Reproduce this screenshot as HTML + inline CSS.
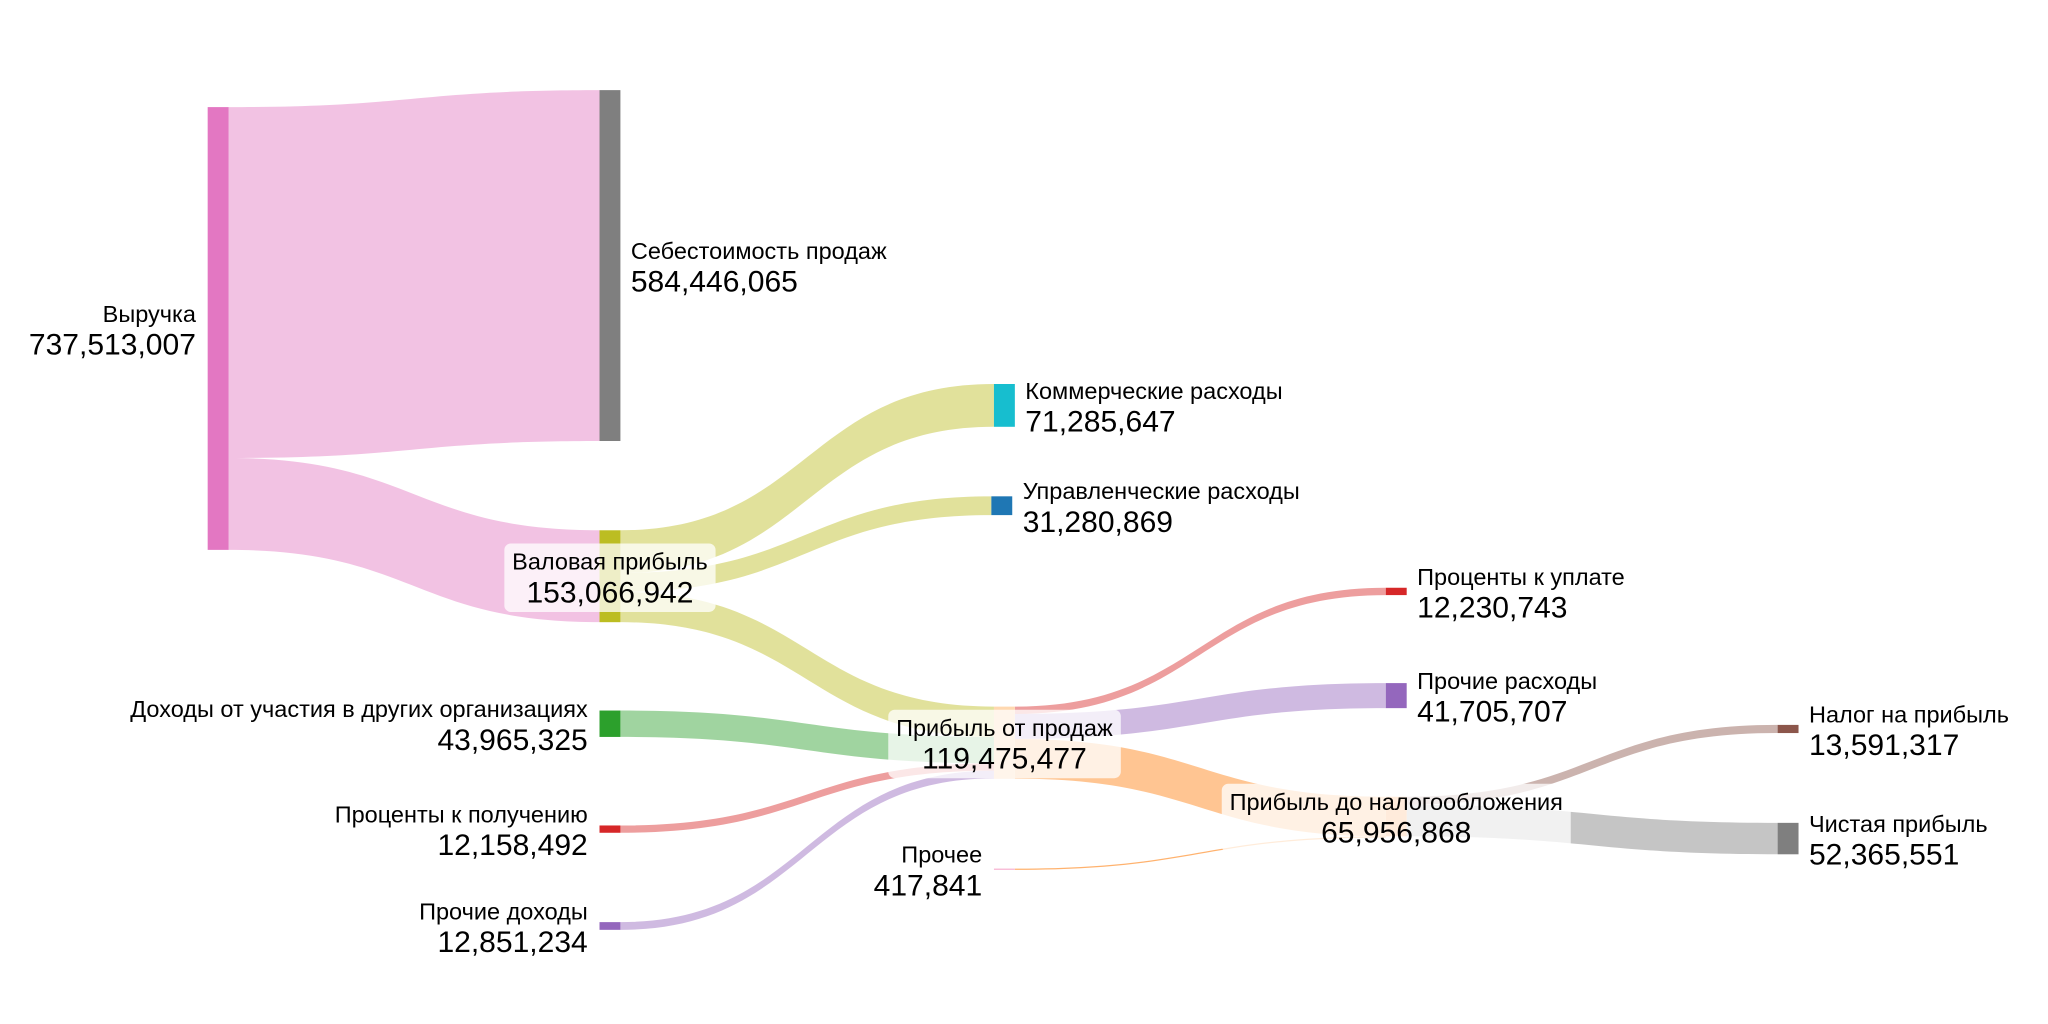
<!DOCTYPE html>
<html><head><meta charset="utf-8"><style>
html,body{margin:0;padding:0;background:#fff;}
svg{display:block;font-family:"Liberation Sans","Noto Sans CJK SC",sans-serif;}
</style></head><body>
<svg id="chart" width="2048" height="1024" viewBox="0 0 1568 784" xmlns="http://www.w3.org/2000/svg">
<g id="links"></g>
<g id="nodes"></g>
<g id="labels"></g>
</svg>
<script>
// data
const nodeNames = ["Выручка","Себестоимость продаж","Валовая прибыль","Доходы от участия в других организациях","Проценты к получению","Прочие доходы","Коммерческие расходы","Управленческие расходы","Прибыль от продаж","Прочее","Проценты к уплате","Прочие расходы","Прибыль до налогообложения","Налог на прибыль","Чистая прибыль"];
const nodeValues = [737513007,584446065,153066942,43965325,12158492,12851234,71285647,31280869,119475477,417841,12230743,41705707,65956868,13591317,52365551];
const linkSource = [0,0,2,2,2,3,4,5,8,8,8,9,12,12];
const linkTarget = [1,2,6,7,8,8,8,8,10,11,12,12,13,14];
const linkValues = [584446065,153066942,71285647,31280869,50500426,43965325,12158492,12851234,12230743,41705707,65956868,417841,13591317,52365551];

// layout (style)
const nodeX = [159,459,459,459,459,459,761,759,761,761,1061,1061,1061,1361,1361];
const nodeTop = [82,69,406,544,632,706,294,380,541,665,450,523,610,555,630];
const nodeColor = ["#e377c2","#7f7f7f","#bcbd22","#2ca02c","#d62728","#9467bd","#17becf","#1f77b4","#ffd8b0","#f7b6d2","#d62728","#9467bd","#ffb070","#8c564b","#7f7f7f"];
const linkColor = ["rgba(227,119,194,0.45)","rgba(227,119,194,0.45)","rgba(188,189,34,0.45)","rgba(188,189,34,0.45)","rgba(188,189,34,0.45)","rgba(44,160,44,0.45)","rgba(214,39,40,0.45)","rgba(148,103,189,0.45)","rgba(214,39,40,0.45)","rgba(148,103,189,0.45)","rgba(255,127,14,0.45)","rgba(255,127,14,0.6)","rgba(140,86,75,0.45)","rgba(127,127,127,0.45)"];
const labelSide = ["left","right","box","left","left","left","right","right","box","left","right","right","box","right","right"];
const NW = 16;
const scale = 339/737513007;
const NS = "http://www.w3.org/2000/svg";
const h = v => Math.max(v*scale, 1);
const fmt = v => v.toLocaleString("en-US");

const srcOff = nodeValues.map(()=>0), tgtOff = nodeValues.map(()=>0);
const lg = document.getElementById("links");
linkValues.forEach((v,i)=>{
  const s=linkSource[i], t=linkTarget[i], w=Math.max(v*scale,1);
  const x0=nodeX[s]+NW, x1=nodeX[t];
  const y0=nodeTop[s]+srcOff[s], y1=nodeTop[t]+tgtOff[t];
  srcOff[s]+=v*scale; tgtOff[t]+=v*scale;
  const xm=(x0+x1)/2;
  const p=document.createElementNS(NS,"path");
  p.setAttribute("d",`M${x0},${y0}C${xm},${y0} ${xm},${y1} ${x1},${y1}L${x1},${y1+w}C${xm},${y1+w} ${xm},${y0+w} ${x0},${y0+w}Z`);
  p.setAttribute("fill",linkColor[i]);
  
  
  lg.appendChild(p);
});
const ng=document.getElementById("nodes"), tg=document.getElementById("labels");
nodeValues.forEach((v,i)=>{
  const r=document.createElementNS(NS,"rect");
  r.setAttribute("x",nodeX[i]); r.setAttribute("y",nodeTop[i]);
  r.setAttribute("width",NW); r.setAttribute("height",h(v));
  r.setAttribute("fill",nodeColor[i]);
  
  
  ng.appendChild(r);
  const cy=nodeTop[i]+h(v)/2, side=labelSide[i];
  let x, anchor;
  if(side==="left"){x=nodeX[i]-9;anchor="end";}
  else if(side==="right"){x=nodeX[i]+NW+8;anchor="start";}
  else {x=nodeX[i]+NW/2;anchor="middle";}
  const g=document.createElementNS(NS,"g");
  
  
  tg.appendChild(g);
  let bg=null;
  if(side==="box"){bg=document.createElementNS(NS,"rect");g.appendChild(bg);}
  const t1=document.createElementNS(NS,"text");
  t1.setAttribute("x",x); t1.setAttribute("y",cy-5); t1.setAttribute("text-anchor",anchor);
  t1.setAttribute("font-size","18"); t1.setAttribute("fill","#000"); t1.textContent=nodeNames[i];
  
  
  g.appendChild(t1);
  const t2=document.createElementNS(NS,"text");
  t2.setAttribute("x",x); t2.setAttribute("y",cy+20); t2.setAttribute("text-anchor",anchor);
  t2.setAttribute("font-size","23"); t2.setAttribute("fill","#000"); t2.textContent=fmt(v);
  
  
  g.appendChild(t2);
  if(bg){
    const b1=t1.getBBox(), b2=t2.getBBox();
    const x0=Math.min(b1.x,b2.x)-6, x1=Math.max(b1.x+b1.width,b2.x+b2.width)+6;
    const y0=b1.y-4, y1=b2.y+b2.height+2;
    bg.setAttribute("x",x0); bg.setAttribute("y",y0);
    bg.setAttribute("width",x1-x0); bg.setAttribute("height",y1-y0);
    bg.setAttribute("rx",5); bg.setAttribute("fill","rgba(255,255,255,0.75)");
    
    
  }
});
</script>
</body></html>
